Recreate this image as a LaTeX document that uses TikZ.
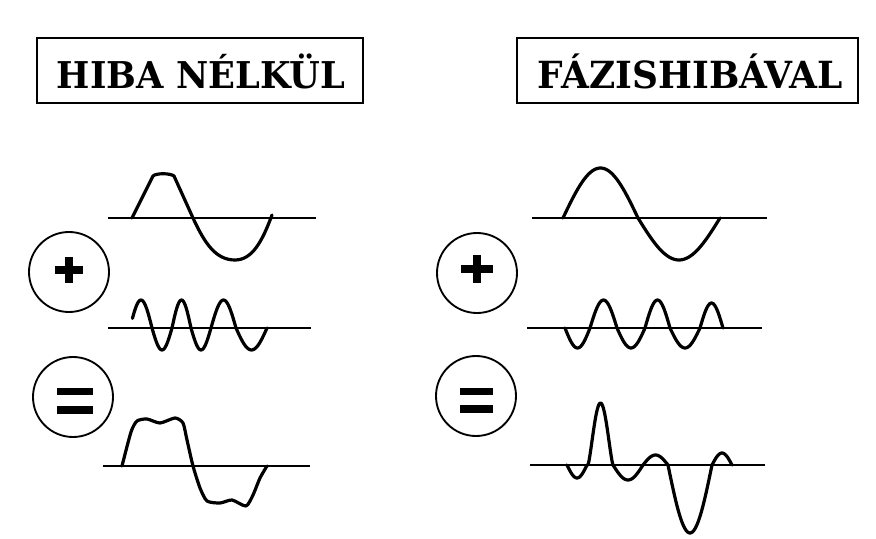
\documentclass[tikz,border=0pt]{standalone}
\usepackage{fontspec}
\newfontfamily\titlefont{DejaVu Serif}
\begin{document}
\begin{tikzpicture}[x=0.75pt,y=-0.75pt,
  titlebox/.style={draw, line width=1.8pt, inner sep=0pt},
  titletext/.style={anchor=base, inner sep=0pt},
  ring/.style={draw, circle, line width=1.4pt, minimum size=60pt, inner sep=0pt},
  axisline/.style={line width=2.2pt},
  wave/.style={line width=2.4pt, line join=round, line cap=round},
  sign/.style={line width=5.8pt}]
\useasboundingbox (0,0) rectangle (876,539);
\fill[white] (0,0) rectangle (876,539);

% title boxes
\node[titlebox, minimum width=244.5pt, minimum height=48.75pt] (lbox) at (200,70.5) {};
\node[titletext] (ltitle) at (201,88) {\resizebox{216pt}{26pt}{\titlefont\bfseries HIBA NÉLKÜL}};
\node[titlebox, minimum width=255.75pt, minimum height=48.75pt] (rbox) at (687.5,70.5) {};
\node[titletext] (rtitle) at (690.5,88) {\resizebox{228.75pt}{26pt}{\titlefont\bfseries FÁZISHIBÁVAL}};

% operator circles
\node[ring] (lplus) at (69,272) {};
\node[ring] (leq) at (73,397) {};
\node[ring] (rplus) at (477,273) {};
\node[ring] (req) at (476,396) {};

\draw[sign] ([shift={(-14,-2)}]lplus.center) -- ([shift={(14,-2)}]lplus.center);
\draw[sign] ([shift={(0,-15)}]lplus.center) -- ([shift={(0,11)}]lplus.center);
\draw[sign] ([shift={(-16,-4)}]rplus.center) -- ([shift={(16,-4)}]rplus.center);
\draw[sign] ([shift={(0,-18)}]rplus.center) -- ([shift={(0,10)}]rplus.center);

\draw[line width=5.3pt] ([shift={(-16,-5.5)}]leq.center) -- ([shift={(20,-5.5)}]leq.center);
\draw[line width=5.3pt] ([shift={(-16,13)}]leq.center) -- ([shift={(20,13)}]leq.center);
\draw[line width=5.3pt] ([shift={(-16,-4.5)}]req.center) -- ([shift={(17,-4.5)}]req.center);
\draw[line width=5.3pt] ([shift={(-16,13)}]req.center) -- ([shift={(17,13)}]req.center);

% axes
\coordinate (la1s) at (108,218); \coordinate (la1e) at (316,218);
\coordinate (la2s) at (108,328); \coordinate (la2e) at (311,328);
\coordinate (la3s) at (103,466); \coordinate (la3e) at (310,466);
\coordinate (ra1s) at (532,218); \coordinate (ra1e) at (767,218);
\coordinate (ra2s) at (527,328); \coordinate (ra2e) at (762,328);
\coordinate (ra3s) at (530,465); \coordinate (ra3e) at (765,465);
\foreach \a in {la1,la2,la3,ra1,ra2,ra3}{
  \draw[axisline] (\a s) -- (\a e);
}

% left waves
\draw[wave] (132,218) -- (153,176) .. controls (156,173) and (170,173) .. (174,176)
  -- (193,218) .. controls (205,244) and (216,260) .. (235,260)
  .. controls (252,260) and (262,242) .. (272,215);
\draw[wave] plot[domain=20:180, samples=20] ({130+22*\x/180},{328-28*sin(\x)})
  -- plot[domain=0:180, samples=20] ({152+20*\x/180},{328+22*sin(\x)})
  -- plot[domain=0:180, samples=20] ({172+19*\x/180},{328-28*sin(\x)})
  -- plot[domain=0:180, samples=20] ({191+20*\x/180},{328+22*sin(\x)})
  -- plot[domain=0:180, samples=20] ({211+25*\x/180},{328-28*sin(\x)})
  -- plot[domain=0:180, samples=20] ({236+31*\x/180},{328+22*sin(\x)});
\draw[wave] plot[smooth, tension=0.4] coordinates {(122,466) (131,432) (137,421) (147,419) (160,423) (175,418) (183,423) (187,440) (193,466) (200,488) (207,501) (220,503) (232,500) (246,506) (253,495) (260,478) (267,466)};

% right waves
\draw[wave] plot[domain=0:180, samples=40] ({563+75*\x/180},{218-50*sin(\x)})
  -- plot[domain=0:180, samples=40] ({638+82*\x/180},{218+42*sin(\x)});
\draw[wave] plot[domain=0:180, samples=20] ({565+25*\x/180},{328+20*sin(\x)})
  -- plot[domain=0:180, samples=20] ({590+27*\x/180},{328-28*sin(\x)})
  -- plot[domain=0:180, samples=20] ({617+28*\x/180},{328+20*sin(\x)})
  -- plot[domain=0:180, samples=20] ({645+25*\x/180},{328-28*sin(\x)})
  -- plot[domain=0:180, samples=20] ({670+30*\x/180},{328+20*sin(\x)})
  -- plot[domain=0:180, samples=20] ({700+23*\x/180},{328-25*sin(\x)});
\draw[wave] plot[domain=0:180, samples=20] ({567+20*\x/180},{465+13*sin(\x)})
  -- plot[domain=0:180, samples=30] ({588+25*\x/180},{465-62*sin(\x)^1.3})
  -- plot[domain=0:180, samples=20] ({613+30*\x/180},{465+15*sin(\x)})
  -- plot[domain=0:180, samples=20] ({643+25*\x/180},{465-10*sin(\x)})
  -- plot[domain=0:180, samples=30] ({668+44*\x/180},{465+68*sin(\x)})
  -- plot[domain=0:180, samples=20] ({712+20*\x/180},{465-12*sin(\x)});
\end{tikzpicture}
\end{document}
